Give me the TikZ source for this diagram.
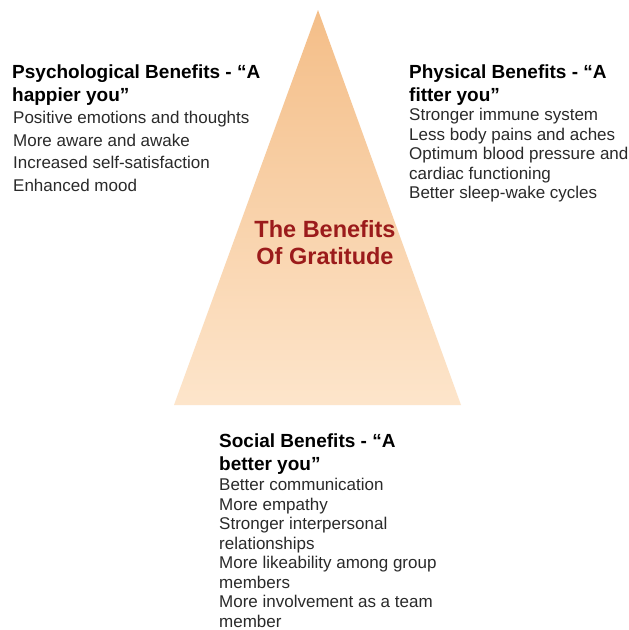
\documentclass[tikz,border=0pt]{standalone}
\usepackage{fontspec}
\setmainfont{Liberation Sans}
\definecolor{tritop}{HTML}{F4BE88}
\definecolor{tribot}{HTML}{FDE5CB}
\definecolor{titlered}{HTML}{9B1B1B}
\definecolor{bodytxt}{HTML}{2A2A2A}
\begin{document}
\begin{tikzpicture}[x=1pt,y=1pt,
  headtxt/.style={anchor=north west,inner sep=0pt,align=left,font=\fontsize{19}{23}\selectfont\bfseries,text=black},
  bodyblk/.style={anchor=north west,inner sep=0pt,align=left,text=bodytxt},
  titletxt/.style={inner sep=0pt,align=center,font=\fontsize{23.5}{27}\selectfont\bfseries,text=titlered}]
\useasboundingbox (0,0) rectangle (629,-630);
\fill[white] (0,0) rectangle (629,-630);
\coordinate (apex) at (318,-10);
\coordinate (bl) at (174,-405);
\coordinate (br) at (461,-405);
\shade[top color=tritop,bottom color=tribot] (apex) -- (br) -- (bl) -- cycle;
\node[titletxt] (title) at (325,-243) {The Benefits\\Of Gratitude};
% left block
\node[headtxt] (lh) at (12,-65) {Psychological Benefits - “A\\happier you”};
\node[bodyblk,font=\fontsize{17}{22.5}\selectfont] (lb) at (13,-111) {Positive emotions and thoughts\\More aware and awake\\Increased self-satisfaction\\Enhanced mood};
% right block
\node[headtxt] (rh) at (409,-65) {Physical Benefits - “A\\fitter you”};
\node[bodyblk,font=\fontsize{17}{19.6}\selectfont] (rb) at (409,-108) {Stronger immune system\\Less body pains and aches\\Optimum blood pressure and\\cardiac functioning\\Better sleep-wake cycles};
% bottom block
\node[headtxt] (bh) at (219,-434) {Social Benefits - “A\\better you”};
\node[bodyblk,font=\fontsize{17}{19.5}\selectfont] (bb) at (219,-478) {Better communication\\More empathy\\Stronger interpersonal\\relationships\\More likeability among group\\members\\More involvement as a team\\member};
\end{tikzpicture}
\end{document}
